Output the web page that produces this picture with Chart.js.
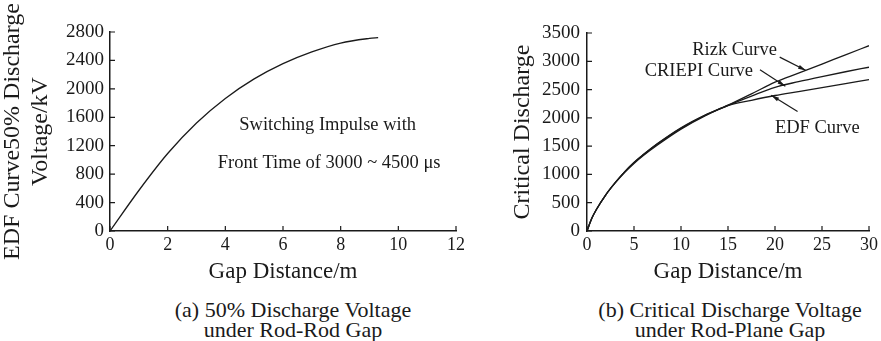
<!DOCTYPE html>
<html>
<head>
<meta charset="utf-8">
<script src="https://cdn.jsdelivr.net/npm/chart.js@4.4.1/dist/chart.umd.min.js"></script>
<style>
  body { margin: 0; background: #fff; width: 881px; height: 341px; position: relative; overflow: hidden; font-family: 'Liberation Serif', serif; }
  canvas { position: absolute; top: 0; }
  #rodRodChart { left: 0; }
  #rodPlaneChart { left: 470px; }
  .caption { position: absolute; top: 300px; width: 300px; text-align: center; font-size: 22px; line-height: 20px; color: #1a1a1a; white-space: nowrap; }
</style>
</head>
<body>
<canvas id="rodRodChart" width="470" height="290"></canvas>
<canvas id="rodPlaneChart" width="411" height="290"></canvas>
<div class="caption" style="left:143px;">(a) 50% Discharge Voltage<br>under Rod-Rod Gap</div>
<div class="caption" style="left:580px;">(b) Critical Discharge Voltage<br>under Rod-Plane Gap</div>
<script>
// (a) rod-rod gap, EDF curve
const rodRodGap = [0, 1, 2, 3, 4, 5, 6, 7, 8, 9, 9.3];
const rodRodVoltage = [0, 570, 1090, 1520, 1865, 2140, 2355, 2520, 2645, 2710, 2722];
const rodRodXTicks = [0, 2, 4, 6, 8, 10, 12];
const rodRodYTicks = [0, 400, 800, 1200, 1600, 2000, 2400, 2800];

// (b) rod-plane gap, three curves
const rodPlaneGap = [0, 0.5, 1, 2, 3, 4, 5, 6, 7.5, 10, 12.5, 15, 17.5, 20, 22.5, 25, 27.5, 30];
const rizkCurve =   [0, 220, 380, 640, 855, 1045, 1210, 1350, 1545, 1825, 2045, 2225, 2425, 2630, 2790, 2950, 3115, 3275];
const criepiCurve = [0, 220, 380, 640, 855, 1045, 1210, 1350, 1540, 1815, 2040, 2220, 2385, 2540, 2640, 2730, 2815, 2895];
const edfCurve =    [0, 220, 380, 640, 850, 1035, 1195, 1335, 1520, 1800, 2030, 2215, 2310, 2395, 2465, 2535, 2605, 2675];
const rodPlaneXTicks = [0, 5, 10, 15, 20, 25, 30];
const rodPlaneYTicks = [0, 500, 1000, 1500, 2000, 2500, 3000, 3500];

const serif = 'Liberation Serif';
const ink = '#1a1a1a';

function toPoints(xs, ys) {
    return xs.map((x, i) => ({ x: x, y: ys[i] }));
}

function curve(xs, ys) {
    return {
        data: toPoints(xs, ys),
        borderColor: ink,
        borderWidth: 1.3,
        pointRadius: 0,
        tension: 0.4,
        cubicInterpolationMode: 'monotone',
        fill: false,
    };
}

// ticks drawn inward from the axis lines, plus text / arrow notes in data units
const notesPlugin = {
    id: 'notes',
    afterDatasetsDraw(chart, args, opts) {
        const ctx = chart.ctx;
        const xs = chart.scales.x;
        const ys = chart.scales.y;
        const area = chart.chartArea;
        ctx.save();
        ctx.strokeStyle = ink;
        ctx.lineWidth = 1.2;
        ctx.beginPath();
        (opts.xTicks || []).forEach((v) => {
            const px = xs.getPixelForValue(v);
            ctx.moveTo(px, area.bottom);
            ctx.lineTo(px, area.bottom - 5);
        });
        (opts.yTicks || []).forEach((v) => {
            const py = ys.getPixelForValue(v);
            ctx.moveTo(area.left, py);
            ctx.lineTo(area.left + 5, py);
        });
        ctx.stroke();

        ctx.fillStyle = ink;
        ctx.font = '18.5px "' + serif + '"';
        ctx.textAlign = 'center';
        ctx.textBaseline = 'middle';
        (opts.texts || []).forEach((t) => {
            ctx.fillText(t.text, xs.getPixelForValue(t.x), ys.getPixelForValue(t.y));
        });

        (opts.arrows || []).forEach((a) => {
            const x1 = xs.getPixelForValue(a.x1);
            const y1 = ys.getPixelForValue(a.y1);
            const x2 = xs.getPixelForValue(a.x2);
            const y2 = ys.getPixelForValue(a.y2);
            const ang = Math.atan2(y2 - y1, x2 - x1);
            ctx.lineWidth = 1.2;
            ctx.beginPath();
            ctx.moveTo(x1, y1);
            ctx.lineTo(x2, y2);
            ctx.stroke();
            ctx.beginPath();
            ctx.moveTo(x2, y2);
            ctx.lineTo(x2 - 8 * Math.cos(ang) + 2 * Math.sin(ang), y2 - 8 * Math.sin(ang) - 2 * Math.cos(ang));
            ctx.lineTo(x2 - 8 * Math.cos(ang) - 2 * Math.sin(ang), y2 - 8 * Math.sin(ang) + 2 * Math.cos(ang));
            ctx.closePath();
            ctx.fill();
        });
        ctx.restore();
    },
};

function buildChart(id, cfg) {
    return new Chart(document.getElementById(id), {
        type: 'line',
        data: { datasets: cfg.datasets },
        options: {
            responsive: false,
            animation: false,
            layout: { padding: cfg.padding },
            plugins: {
                legend: { display: false },
                tooltip: { enabled: false },
                notes: cfg.notes,
            },
            scales: {
                x: {
                    type: 'linear',
                    min: cfg.xTicks[0],
                    max: cfg.xTicks[cfg.xTicks.length - 1],
                    afterBuildTicks: (scale) => { scale.ticks = cfg.xTicks.map((v) => ({ value: v })); },
                    afterFit: (scale) => { scale.height = 59; },
                    grid: { display: false, drawTicks: false },
                    border: { display: true, color: ink, width: 1.5 },
                    ticks: { color: ink, font: { family: serif, size: 18 }, padding: 3, maxRotation: 0, callback: (v) => String(v) },
                    title: { display: true, text: 'Gap Distance/m', color: ink, font: { family: serif, size: 23 }, padding: { top: 0 } },
                },
                y: {
                    min: cfg.yTicks[0],
                    max: cfg.yTicks[cfg.yTicks.length - 1],
                    afterBuildTicks: (scale) => { scale.ticks = cfg.yTicks.map((v) => ({ value: v })); },
                    afterFit: (scale) => { scale.width = cfg.yWidth; },
                    grid: { display: false, drawTicks: false },
                    border: { display: true, color: ink, width: 1.5 },
                    ticks: { color: ink, font: { family: serif, size: 19 }, padding: cfg.yTickPad, callback: (v) => String(v) },
                    title: { display: true, text: cfg.yTitle, color: ink, font: { family: serif, size: 24, lineHeight: 1.2 }, padding: cfg.yTitlePad },
                },
            },
        },
        plugins: [notesPlugin],
    });
}

function drawAll() {
    buildChart('rodRodChart', {
        datasets: [curve(rodRodGap, rodRodVoltage)],
        xTicks: rodRodXTicks,
        yTicks: rodRodYTicks,
        yWidth: 110,
        yTickPad: 6,
        yTitle: ['EDF Curve50% Discharge', 'Voltage/kV'],
        yTitlePad: { top: -2, bottom: 0 },
        padding: { top: 32, right: 14, left: 0, bottom: 0 },
        notes: {
            xTicks: rodRodXTicks,
            yTicks: rodRodYTicks,
            texts: [
                { text: 'Switching Impulse with', x: 7.55, y: 1494 },
                { text: 'Front Time of 3000 ~ 4500 \u03bcs', x: 7.6, y: 958 },
            ],
        },
    });

    buildChart('rodPlaneChart', {
        datasets: [curve(rodPlaneGap, rizkCurve), curve(rodPlaneGap, criepiCurve), curve(rodPlaneGap, edfCurve)],
        xTicks: rodPlaneXTicks,
        yTicks: rodPlaneYTicks,
        yWidth: 117,
        yTickPad: 7,
        yTitle: 'Critical Discharge',
        yTitlePad: { top: 38, bottom: 0 },
        padding: { top: 33, right: 9, left: 0, bottom: 0 },
        notes: {
            xTicks: rodPlaneXTicks,
            yTicks: rodPlaneYTicks,
            texts: [
                { text: 'Rizk Curve', x: 15.7, y: 3203 },
                { text: 'CRIEPI Curve', x: 11.9, y: 2819 },
                { text: 'EDF Curve', x: 24.5, y: 1823 },
            ],
            arrows: [
                { x1: 20.5, y1: 3074, x2: 23.3, y2: 2837 },
                { x1: 18.4, y1: 2850, x2: 21.1, y2: 2560 },
                { x1: 22.4, y1: 2111, x2: 19.6, y2: 2400 },
            ],
        },
    });
}

Chart.defaults.font.family = serif;
document.fonts.load('18px "Liberation Serif"').then(drawAll, drawAll);
</script>
</body>
</html>
